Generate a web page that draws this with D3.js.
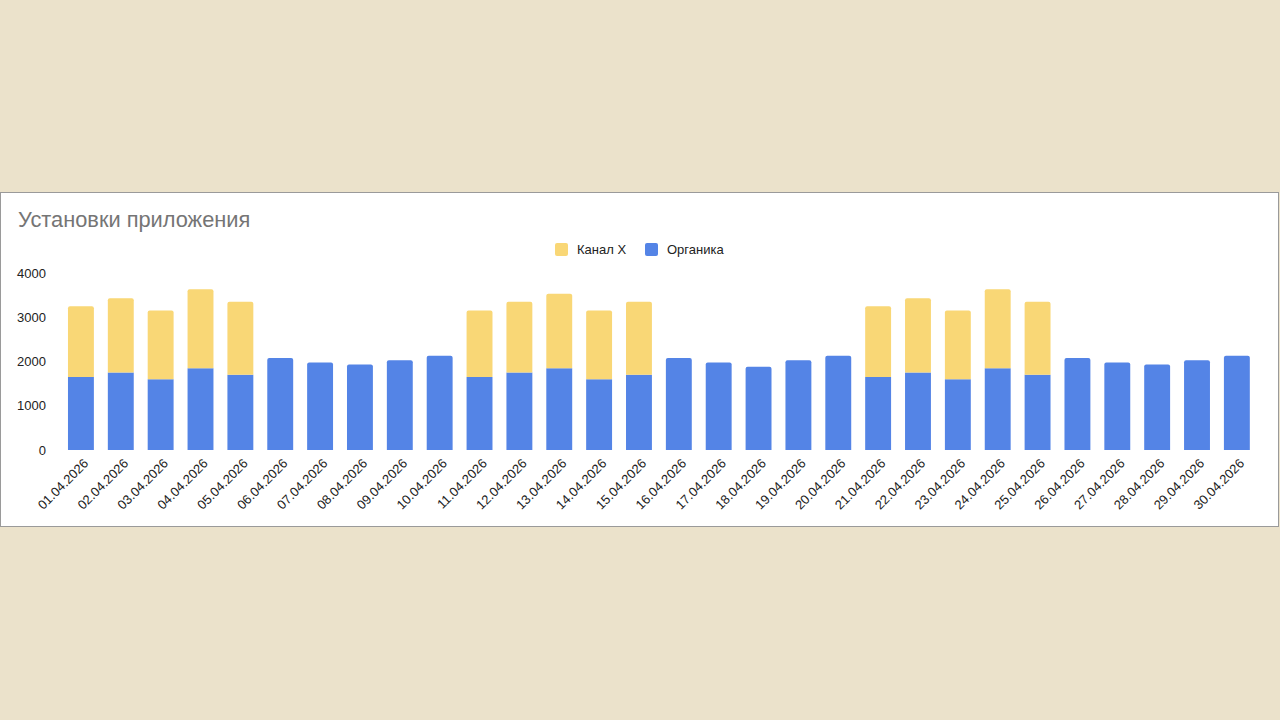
<!DOCTYPE html>
<html>
<meta charset="utf-8">
<script src="https://d3js.org/d3.v7.min.js"></script>
<style>
  body { margin: 0; background: #ebe2cb; }
  svg { display: block; font-family: Arial, "Liberation Sans", sans-serif; }
</style>
<body>
<div id="vis"></div>
<script>
  // data
  var dates = ["01.04.2026","02.04.2026","03.04.2026","04.04.2026","05.04.2026",
               "06.04.2026","07.04.2026","08.04.2026","09.04.2026","10.04.2026",
               "11.04.2026","12.04.2026","13.04.2026","14.04.2026","15.04.2026",
               "16.04.2026","17.04.2026","18.04.2026","19.04.2026","20.04.2026",
               "21.04.2026","22.04.2026","23.04.2026","24.04.2026","25.04.2026",
               "26.04.2026","27.04.2026","28.04.2026","29.04.2026","30.04.2026"];
  var organic = [1650,1750,1600,1850,1700, 2080,1980,1930,2030,2130,
                 1650,1750,1850,1600,1700, 2080,1980,1880,2030,2130,
                 1650,1750,1600,1850,1700, 2080,1980,1930,2030,2130];
  var channelX = [1600,1680,1550,1780,1650, 0,0,0,0,0,
                  1500,1600,1680,1550,1650, 0,0,0,0,0,
                  1600,1680,1550,1780,1650, 0,0,0,0,0];
  var yTicks = [0, 1000, 2000, 3000, 4000];
  var seriesNames = ["Канал X", "Органика"];
  var colors = {organic: "#5484e6", channelX: "#f9d776"};

  var W = 1280, H = 720;
  var svg = d3.select("#vis").append("svg")
      .attr("width", W)
      .attr("height", H);

  // white panel
  svg.append("rect")
      .attr("x", 0.5).attr("y", 192.5)
      .attr("width", 1278).attr("height", 334)
      .attr("fill", "#fff")
      .attr("stroke", "#9a9a9a");

  svg.append("text")
      .attr("x", 18).attr("y", 227)
      .attr("font-size", 21.8)
      .attr("fill", "#757575")
      .text("Установки приложения");

  var x = d3.scaleBand()
      .domain(dates)
      .range([61, 1256.8])
      .paddingInner(0.35)
      .paddingOuter(0.175);

  var y = d3.scaleLinear()
      .domain([0, 4000])
      .range([450, 273]);

  // y axis labels
  var yAxis = svg.append("g")
      .attr("transform", "translate(46,0)")
      .call(d3.axisLeft(y).tickValues(yTicks).tickSize(0).tickPadding(0).tickFormat(d3.format("d")));
  yAxis.select(".domain").remove();
  yAxis.selectAll("text")
      .attr("font-size", 13)
      .attr("font-family", "Arial, 'Liberation Sans', sans-serif")
      .attr("fill", "#222");

  // rounded-top bar segment
  function barPath(x0, w, yTop, yBot, r) {
    r = Math.min(r, (yBot - yTop) / 2);
    return "M" + x0 + "," + yBot +
      "V" + (yTop + r) +
      "Q" + x0 + "," + yTop + " " + (x0 + r) + "," + yTop +
      "H" + (x0 + w - r) +
      "Q" + (x0 + w) + "," + yTop + " " + (x0 + w) + "," + (yTop + r) +
      "V" + yBot + "Z";
  }

  var rows = dates.map(function(d, i) {
    return {date: d, organic: organic[i], channelX: channelX[i]};
  });

  var bars = svg.append("g");
  bars.selectAll(".org")
    .data(rows)
    .join("path")
      .attr("class", "org")
      .attr("fill", colors.organic)
      .attr("d", function(d) {
        var r = d.channelX > 0 ? 0 : 2;
        return barPath(x(d.date), x.bandwidth(), y(d.organic), y(0), r);
      });

  bars.selectAll(".chx")
    .data(rows.filter(function(d) { return d.channelX > 0; }))
    .join("path")
      .attr("class", "chx")
      .attr("fill", colors.channelX)
      .attr("d", function(d) {
        return barPath(x(d.date), x.bandwidth(), y(d.organic + d.channelX), y(d.organic), 2);
      });

  // x labels
  svg.append("g").selectAll("text")
    .data(dates)
    .join("text")
      .attr("transform", function(d) {
        return "translate(" + (x(d) + x.bandwidth() / 2 + 5) + ",461) rotate(-45)";
      })
      .attr("text-anchor", "end")
      .attr("dy", "0.35em")
      .attr("font-size", 13)
      .attr("fill", "#222")
      .text(function(d) { return d; });

  // legend
  var legend = svg.append("g");
  var legendItems = [
    {name: seriesNames[0], color: colors.channelX, x: 555},
    {name: seriesNames[1], color: colors.organic, x: 645}
  ];
  var li = legend.selectAll("g")
    .data(legendItems)
    .join("g")
      .attr("transform", function(d) { return "translate(" + d.x + ",243)"; });
  li.append("rect")
      .attr("width", 13).attr("height", 13).attr("rx", 2)
      .attr("fill", function(d) { return d.color; });
  li.append("text")
      .attr("x", 22).attr("y", 11)
      .attr("font-size", 13)
      .attr("fill", "#222")
      .text(function(d) { return d.name; });
</script>
</body>
</html>
